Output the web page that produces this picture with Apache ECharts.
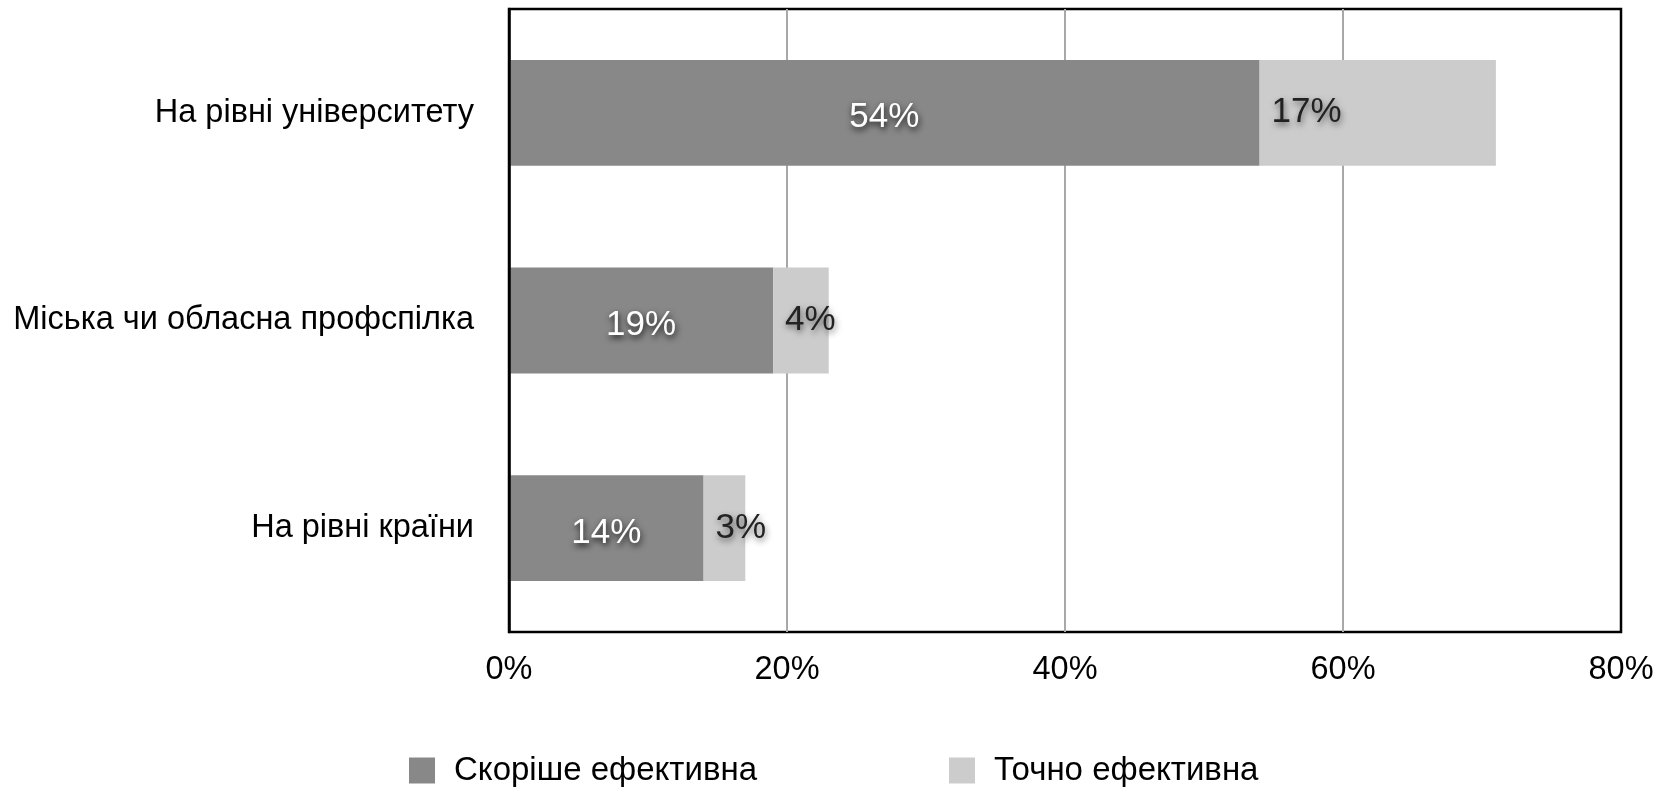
<!DOCTYPE html>
<html>
<head>
<meta charset="utf-8">
<script src="https://cdn.jsdelivr.net/npm/echarts@6/dist/echarts.min.js"></script>
<style>
html,body{margin:0;padding:0;background:#fff;}
#chart{width:1664px;height:787px;}
</style>
</head>
<body>
<div id="chart"></div>
<script>
const categories = ['На рівні університету', 'Міська чи обласна профспілка', 'На рівні країни'];
const seriesNames = ['Скоріше ефективна', 'Точно ефективна'];
const ratherEffective = [54, 19, 14];
const definitelyEffective = [17, 4, 3];
const xTicks = [0, 20, 40, 60, 80];

const FONT = "'Liberation Sans', Arial, sans-serif";
const chart = echarts.init(document.getElementById('chart'));
chart.setOption({
  backgroundColor: '#fff',
  animation: false,
  grid: {
    left: 509, right: 43, top: 9, bottom: 155,
    show: true, borderColor: '#000', borderWidth: 2.5,
    outerBoundsMode: 'none', containLabel: false
  },
  legend: {
    left: 404, top: 749,
    itemWidth: 26, itemHeight: 26, itemGap: 192,
    icon: 'rect',
    data: seriesNames,
    textStyle: { fontFamily: FONT, fontSize: 33, color: '#000', padding: [0, 0, 0, 14] }
  },
  xAxis: {
    type: 'value', min: xTicks[0], max: xTicks[xTicks.length - 1], interval: 20,
    axisLine: { show: false }, axisTick: { show: false },
    axisLabel: { formatter: v => v + '%', fontFamily: FONT, fontSize: 32.5, color: '#000', margin: 22 },
    splitLine: { show: true, showMinLine: false, showMaxLine: false, lineStyle: { color: '#a8a8a8', width: 2 } }
  },
  yAxis: {
    type: 'category', data: categories, inverse: true, z: 10,
    axisLine: { show: true, lineStyle: { color: '#000', width: 2.5 } }, axisTick: { show: false },
    axisLabel: { fontFamily: FONT, fontSize: 32.5, color: '#000', margin: 35, padding: [4, 0, 0, 0] }
  },
  series: [
    {
      name: seriesNames[0], type: 'bar', stack: 'total', barWidth: '51%',
      data: ratherEffective,
      itemStyle: { color: '#878887' },
      label: {
        show: true, position: 'inside', offset: [0, 5], formatter: p => p.value + '%',
        fontFamily: FONT, fontSize: 35, color: '#fff',
        textShadowColor: 'rgba(0,0,0,0.85)', textShadowBlur: 6, textShadowOffsetX: 1, textShadowOffsetY: 3
      }
    },
    {
      name: seriesNames[1], type: 'bar', stack: 'total', barWidth: '51%',
      data: definitelyEffective,
      itemStyle: { color: '#cbcccb' },
      label: {
        show: true, position: 'insideLeft', distance: 12, offset: [0, 5], formatter: p => p.value + '%',
        fontFamily: FONT, fontSize: 35, color: '#222',
        textShadowColor: 'rgba(0,0,0,0.55)', textShadowBlur: 6, textShadowOffsetX: 1, textShadowOffsetY: 3
      },
      labelLayout: { hideOverlap: false }
    }
  ]
});
</script>
</body>
</html>
